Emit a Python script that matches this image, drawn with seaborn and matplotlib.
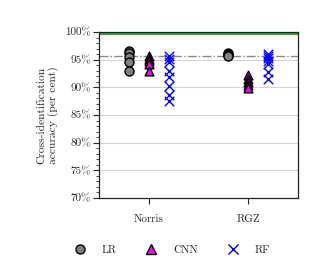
import numpy as np
import pandas as pd
import matplotlib
matplotlib.use("Agg")
import matplotlib.pyplot as plt
import seaborn as sns
from matplotlib.lines import Line2D

# Cross-identification accuracies (per cent)
datasets = ["Norris", "RGZ"]
lr_norris = [96.6, 96.2, 95.5, 94.6, 92.9]
lr_rgz = [96.2, 96.0, 95.8, 95.6]
cnn_norris = [95.6, 95.2, 94.7, 94.3, 92.9]
cnn_rgz = [92.2, 91.6, 91.0, 90.4, 89.9]
rf_norris = [95.7, 95.2, 94.6, 93.0, 91.9, 90.2, 88.7, 87.6]
rf_rgz = [96.0, 95.6, 95.3, 94.8, 94.3, 92.8, 91.6]
human_line = 99.7
baseline_line = 95.6
yticks = [70, 75, 80, 85, 90, 95, 100]
ytick_labels = ["70%", "75%", "80%", "85%", "90%", "95%", "100%"]

sns.set_theme(style="ticks")
plt.rcParams["font.family"] = ["cmr10", "DejaVu Serif"]
plt.rcParams["mathtext.fontset"] = "cm"
plt.rcParams["axes.unicode_minus"] = False

rows = []
for model, vals in [("LR", (lr_norris, lr_rgz)), ("CNN", (cnn_norris, cnn_rgz)), ("RF", (rf_norris, rf_rgz))]:
    for i, ds in enumerate(datasets):
        for v in vals[i]:
            rows.append({"model": model, "dataset": ds, "idx": i, "acc": v})
df = pd.DataFrame(rows)

offsets = {"LR": -0.2, "CNN": 0.0, "RF": 0.2}
df["xpos"] = df["idx"] + df["model"].map(offsets)

fig = plt.figure(figsize=(3.32, 2.65), dpi=100)
ax = fig.add_axes([0.298, 0.253, 0.600, 0.626])

# reference lines
for t in yticks:
    ax.axhline(t, color="#d4d4d4", lw=0.8, zorder=0)
ax.axhline(human_line, color="#3a9a3a", lw=1.6, zorder=1)
ax.axhline(baseline_line, color="#8a8a8a", lw=1.0, ls="-.", zorder=1)

sns.scatterplot(data=df[df.model == "LR"], x="xpos", y="acc", ax=ax, marker="o",
                s=42, color="#808080", edgecolor="black", linewidth=1.0, zorder=3)
sns.scatterplot(data=df[df.model == "CNN"], x="xpos", y="acc", ax=ax, marker="^",
                s=40, color="#ff00ff", edgecolor="black", linewidth=1.0, zorder=3)
sns.scatterplot(data=df[df.model == "RF"], x="xpos", y="acc", ax=ax, marker="x",
                s=46, color="#0000ff", linewidth=1.0, zorder=3)

ax.set_xlim(-0.5, 1.5)
ax.set_ylim(70, 100)
ax.set_xticks(range(len(datasets)))
ax.set_xticklabels(datasets, fontsize=8)
ax.set_yticks(yticks)
ax.set_yticklabels(ytick_labels, fontsize=8)
ax.set_yticks(np.arange(70, 101, 1), minor=True)
ax.tick_params(axis="y", which="major", length=4, width=0.8, pad=2)
ax.tick_params(axis="y", which="minor", length=2, width=0.6)
ax.tick_params(axis="x", which="major", length=4, width=0.8, pad=8)
ax.set_xlabel("")
ax.set_ylabel("Cross-identification\naccuracy (per cent)", fontsize=8.3, labelpad=4)
for sp in ax.spines.values():
    sp.set_color("#222222")
    sp.set_linewidth(0.9)

handles = [
    Line2D([], [], ls="", marker="o", ms=6.5, mfc="#808080", mec="black", mew=1.0),
    Line2D([], [], ls="", marker="^", ms=6.5, mfc="#ff00ff", mec="black", mew=1.0),
    Line2D([], [], ls="", marker="x", ms=7, color="#0000ff", mew=1.0),
]
fig.legend(handles, ["LR", "CNN", "RF"], loc="center", bbox_to_anchor=(0.51, 0.058),
           ncol=3, frameon=False, fontsize=8, handletextpad=1.0, columnspacing=2.1)

fig.savefig("out.png", dpi=100)
